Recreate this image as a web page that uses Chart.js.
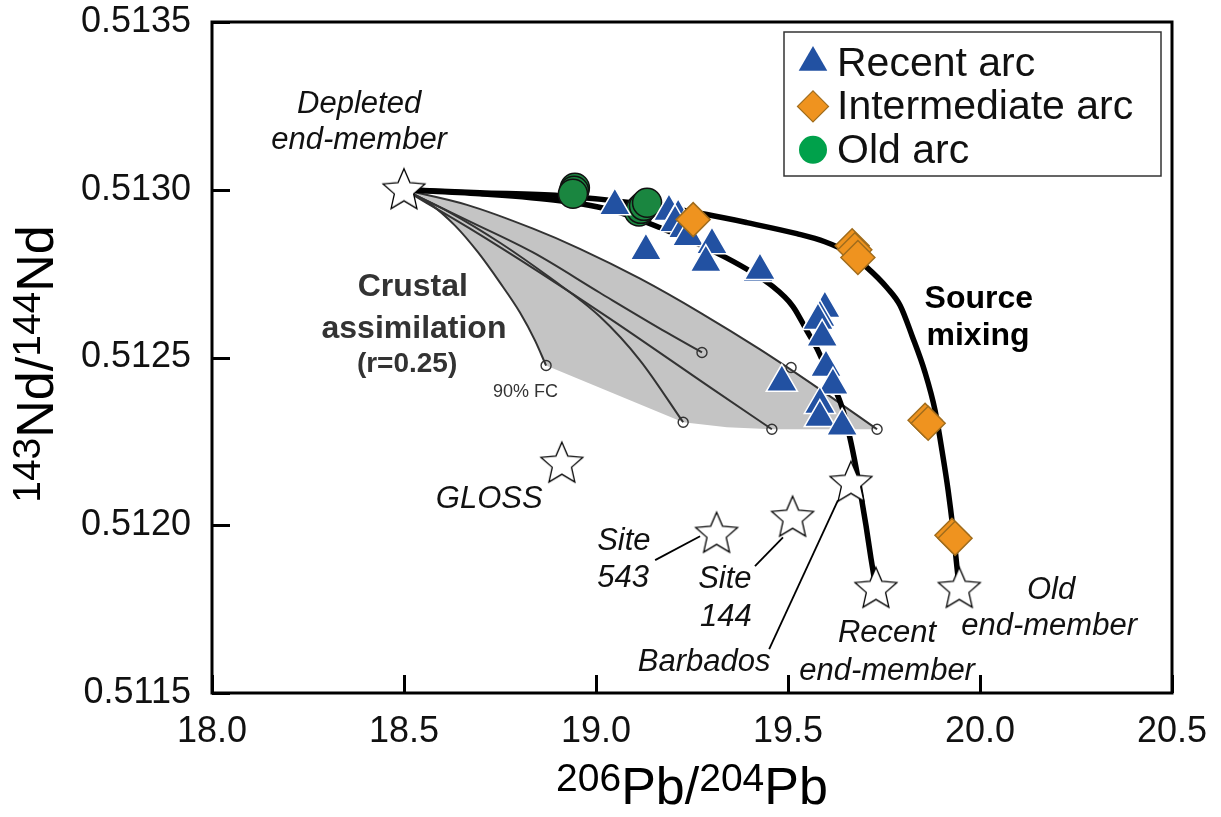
<!DOCTYPE html>
<html>
<head>
<meta charset="utf-8">
<title>Nd-Pb isotope mixing</title>
<script src="https://cdn.jsdelivr.net/npm/chart.js@4.4.1/dist/chart.umd.min.js"></script>
<style>
  html, body { margin: 0; padding: 0; background: #ffffff; }
  #wrap { position: relative; width: 1221px; height: 817px; }
</style>
</head>
<body>
<div id="wrap"><canvas id="chart" width="1221" height="817"></canvas></div>
<script>
// ---- Axis ticks ----
const xTickValues = [18.0, 18.5, 19.0, 19.5, 20.0, 20.5];
const xTickLabels = ['18.0', '18.5', '19.0', '19.5', '20.0', '20.5'];
const yTickValues = [0.5115, 0.5120, 0.5125, 0.5130, 0.5135];
const yTickLabels = ['0.5115', '0.5120', '0.5125', '0.5130', '0.5135'];

// ---- Samples: [206Pb/204Pb, 143Nd/144Nd] ----
const recentArc = [
  [19.049, 0.512952], [19.190, 0.512935], [19.214, 0.512920], [19.206, 0.512902],
  [19.229, 0.512884], [19.240, 0.512860], [19.130, 0.512818], [19.302, 0.512836],
  [19.286, 0.512783], [19.422, 0.512753], [19.427, 0.512759], [19.596, 0.512646],
  [19.583, 0.512619], [19.578, 0.512610], [19.589, 0.512560], [19.599, 0.512470],
  [19.617, 0.512417], [19.583, 0.512360], [19.583, 0.512321], [19.641, 0.512295],
  [19.484, 0.512426]
];
const intermediateArc = [
  [19.253, 0.512911], [19.667, 0.512833], [19.674, 0.512821], [19.682, 0.512798],
  [19.857, 0.512313], [19.865, 0.512304], [19.927, 0.511970], [19.935, 0.511961]
];
const oldArc = [
  [18.945, 0.513006], [18.943, 0.512997], [18.940, 0.512988],
  [19.112, 0.512935], [19.117, 0.512943], [19.125, 0.512952], [19.133, 0.512961]
];

// ---- End-members and sediment compositions ----
const endMembers = [
  [18.500, 0.513000],  // depleted
  [18.911, 0.512185],  // GLOSS
  [19.314, 0.511976],  // Site 543
  [19.512, 0.512024],  // Site 144
  [19.664, 0.512128],  // Barbados
  [19.729, 0.511812],  // recent
  [19.946, 0.511812]   // old
];

// ---- Source mixing curves ----
const recentMixing = [
  [18.500, 0.513000], [18.698, 0.512988], [18.906, 0.512967], [19.044, 0.512938],
  [19.167, 0.512887], [19.323, 0.512807], [19.461, 0.512711], [19.513, 0.512652],
  [19.549, 0.512580], [19.578, 0.512521], [19.609, 0.512440], [19.641, 0.512351],
  [19.661, 0.512262], [19.677, 0.512173], [19.690, 0.512089], [19.703, 0.512000],
  [19.716, 0.511902], [19.729, 0.511812]
];
const oldMixing = [
  [18.500, 0.513000], [18.698, 0.512991], [18.906, 0.512982], [19.115, 0.512958],
  [19.289, 0.512926], [19.393, 0.512902], [19.523, 0.512869], [19.596, 0.512845],
  [19.656, 0.512813], [19.706, 0.512768], [19.758, 0.512708], [19.792, 0.512655],
  [19.823, 0.512565], [19.857, 0.512455], [19.883, 0.512342], [19.901, 0.512223],
  [19.917, 0.512104], [19.930, 0.511985], [19.940, 0.511875], [19.946, 0.511812]
];

// ---- Crustal assimilation (AFC) paths, r = 0.25 ----
const afcPathA = [
  [18.500, 0.513000], [18.568, 0.512958], [18.633, 0.512893], [18.693, 0.512813],
  [18.750, 0.512723], [18.802, 0.512634], [18.841, 0.512551], [18.870, 0.512476]
];
const afcPathB = [
  [18.500, 0.513000], [18.672, 0.512905], [18.836, 0.512813], [19.010, 0.512693],
  [19.185, 0.512574], [19.276, 0.512515]
];
const afcPathC = [
  [18.500, 0.513000], [18.620, 0.512932], [18.750, 0.512842], [18.880, 0.512738],
  [19.010, 0.512622], [19.115, 0.512491], [19.227, 0.512307]
];
const afcPathD = [
  [18.500, 0.513000], [18.672, 0.512884], [18.854, 0.512753], [19.036, 0.512616],
  [19.305, 0.512405], [19.458, 0.512286]
];
const afcPathE = [
  [18.500, 0.513000], [18.664, 0.512955], [18.836, 0.512884], [18.958, 0.512824],
  [19.115, 0.512735], [19.271, 0.512634], [19.427, 0.512524], [19.583, 0.512405],
  [19.732, 0.512286]
];
// 90% fractional crystallisation ends of each path
const afcEnds = [
  [18.870, 0.512476], [19.276, 0.512515], [19.227, 0.512307],
  [19.458, 0.512286], [19.508, 0.512470], [19.732, 0.512286]
];
// Envelope of the AFC paths
const afcField = [
  [18.500, 0.513000], [18.568, 0.512958], [18.633, 0.512893], [18.693, 0.512813],
  [18.750, 0.512723], [18.802, 0.512634], [18.841, 0.512551], [18.870, 0.512476],
  [19.227, 0.512307], [19.341, 0.512292], [19.458, 0.512286], [19.732, 0.512286],
  [19.583, 0.512405], [19.427, 0.512524], [19.271, 0.512634], [19.115, 0.512735],
  [18.958, 0.512824], [18.836, 0.512884], [18.664, 0.512955], [18.500, 0.513000]
];

// ---- Leader lines from sediment labels ----
const leaderSite543 = [[19.154, 0.511896], [19.271, 0.511967]];
const leaderSite144 = [[19.414, 0.511878], [19.487, 0.511964]];
const leaderBarbados = [[19.451, 0.511631], [19.630, 0.512074]];

// ---- Text annotations, anchored in data units ----
const notes = [
  { text: 'Depleted',     at: [18.383, 0.513229], kind: 'name',  align: 'center' },
  { text: 'end-member',   at: [18.383, 0.513122], kind: 'name',  align: 'center' },
  { text: 'Crustal',      at: [18.523, 0.512682], kind: 'afc',   align: 'center' },
  { text: 'assimilation', at: [18.526, 0.512557], kind: 'afc',   align: 'center' },
  { text: '(r=0.25)',     at: [18.508, 0.512458], kind: 'afcR',  align: 'center' },
  { text: '90% FC',       at: [18.732, 0.512381], kind: 'fc',    align: 'left' },
  { text: 'GLOSS',        at: [18.583, 0.512051], kind: 'name',  align: 'left' },
  { text: 'Site',         at: [19.003, 0.511926], kind: 'name',  align: 'left' },
  { text: '543',          at: [19.003, 0.511815], kind: 'name',  align: 'left' },
  { text: 'Site',         at: [19.266, 0.511813], kind: 'name',  align: 'left' },
  { text: '144',          at: [19.271, 0.511699], kind: 'name',  align: 'left' },
  { text: 'Barbados',     at: [19.109, 0.511565], kind: 'name',  align: 'left' },
  { text: 'Recent',       at: [19.758, 0.511652], kind: 'name',  align: 'center' },
  { text: 'end-member',   at: [19.758, 0.511539], kind: 'name',  align: 'center' },
  { text: 'Old',          at: [20.185, 0.511780], kind: 'name',  align: 'center' },
  { text: 'end-member',   at: [20.180, 0.511673], kind: 'name',  align: 'center' },
  { text: 'Source',       at: [19.997, 0.512649], kind: 'mix',   align: 'center' },
  { text: 'mixing',       at: [19.995, 0.512536], kind: 'mix',   align: 'center' }
];

const FAMILY = "'Liberation Sans', Arial, Helvetica, sans-serif";
const noteStyles = {
  name: { font: `italic 400 31px ${FAMILY}`, color: '#111111' },
  afc:  { font: `normal 700 32px ${FAMILY}`, color: '#333333' },
  afcR: { font: `normal 700 28px ${FAMILY}`, color: '#333333' },
  fc:   { font: `normal 400 18px ${FAMILY}`, color: '#333333' },
  mix:  { font: `normal 700 32px ${FAMILY}`, color: '#000000' }
};

const toPts = arr => arr.map(([x, y]) => ({ x, y }));

// Open star marker used for end-members
function makeStar(R) {
  const size = Math.ceil(R * 2 + 6);
  const c = document.createElement('canvas');
  c.width = size; c.height = size;
  const g = c.getContext('2d');
  g.translate(size / 2, size / 2 + 1);
  g.beginPath();
  for (let i = 0; i < 10; i++) {
    const r = i % 2 ? R * 0.46 : R;
    const a = -Math.PI / 2 + i * Math.PI / 5;
    const px = Math.cos(a) * r, py = Math.sin(a) * r;
    if (i === 0) g.moveTo(px, py); else g.lineTo(px, py);
  }
  g.closePath();
  g.fillStyle = '#ffffff';
  g.fill();
  g.lineWidth = 1.3;
  g.strokeStyle = '#000000';
  g.lineJoin = 'miter';
  g.stroke();
  return c;
}
const starMarker = makeStar(22);

const pathStyle = { showLine: true, pointRadius: 0, borderColor: '#333333', borderWidth: 2, cubicInterpolationMode: 'monotone', fill: false, order: 7 };
const leaderStyle = { showLine: true, pointRadius: 0, borderColor: '#000000', borderWidth: 1.8, tension: 0, fill: false, order: 5 };
const mixStyle = { showLine: true, pointRadius: 0, borderColor: '#000000', borderWidth: 5.5, cubicInterpolationMode: 'monotone', fill: false, order: 5, borderCapStyle: 'round' };

const datasets = [
  { label: 'Intermediate arc', data: toPts(intermediateArc), pointStyle: 'rectRot', pointRadius: 17,
    backgroundColor: '#EF931F', borderColor: '#A06C1C', borderWidth: 1.5, order: 1,
    legend: { fill: '#EF931F', stroke: '#A06C1C', radius: 15.5, borderWidth: 1.2 } },
  { label: 'Recent arc', data: toPts(recentArc), pointStyle: 'triangle', pointRadius: 18,
    backgroundColor: '#2251A2', borderColor: '#ffffff', borderWidth: 1.5, order: 2,
    legend: { fill: '#2251A2', stroke: '#2251A2', radius: 16.5, borderWidth: 0 } },
  { label: 'Old arc', data: toPts(oldArc), pointStyle: 'circle', pointRadius: 14.5,
    backgroundColor: '#1A8640', borderColor: '#111111', borderWidth: 1.5, order: 3,
    legend: { fill: '#00A14B', stroke: '#00A14B', radius: 14, borderWidth: 0 } },
  { label: 'End-members', data: toPts(endMembers), pointStyle: starMarker, pointRadius: 21, order: 4 },
  { label: 'Recent mixing', data: toPts(recentMixing), ...mixStyle },
  { label: 'Old mixing', data: toPts(oldMixing), ...mixStyle },
  { label: 'Site 543', data: toPts(leaderSite543), ...leaderStyle },
  { label: 'Site 144', data: toPts(leaderSite144), ...leaderStyle },
  { label: 'Barbados', data: toPts(leaderBarbados), ...leaderStyle },
  { label: '90% FC', data: toPts(afcEnds), pointStyle: 'circle', pointRadius: 5,
    backgroundColor: 'rgba(0,0,0,0)', borderColor: '#333333', borderWidth: 1.4, order: 6 },
  { label: 'AFC A', data: toPts(afcPathA), ...pathStyle },
  { label: 'AFC B', data: toPts(afcPathB), ...pathStyle },
  { label: 'AFC C', data: toPts(afcPathC), ...pathStyle },
  { label: 'AFC D', data: toPts(afcPathD), ...pathStyle },
  { label: 'AFC E', data: toPts(afcPathE), ...pathStyle },
  { label: 'AFC field', data: toPts(afcField), showLine: true, pointRadius: 0, borderWidth: 0,
    borderColor: 'rgba(0,0,0,0)', backgroundColor: '#C4C4C4', tension: 0, fill: 'shape', order: 8 }
];

// Plot frame with inward tick marks
const framePlugin = {
  id: 'frame',
  afterDatasetsDraw(chart) {
    const { ctx, chartArea: a, scales: { x, y } } = chart;
    ctx.save();
    ctx.strokeStyle = '#000000';
    ctx.lineWidth = 3;
    ctx.lineCap = 'butt';
    ctx.beginPath();
    xTickValues.forEach(v => {
      const px = Math.round(x.getPixelForValue(v)) + 0.5;
      ctx.moveTo(px, a.bottom); ctx.lineTo(px, a.bottom - 18);
    });
    yTickValues.forEach(v => {
      const py = Math.round(y.getPixelForValue(v)) + 0.5;
      ctx.moveTo(a.left, py); ctx.lineTo(a.left + 18, py);
    });
    ctx.stroke();
    ctx.strokeRect(a.left, a.top, a.right - a.left, a.bottom - a.top);
    ctx.restore();
  }
};

// Text annotations
const notesPlugin = {
  id: 'notes',
  afterDatasetsDraw(chart) {
    const { ctx, scales: { x, y } } = chart;
    ctx.save();
    ctx.textBaseline = 'alphabetic';
    notes.forEach(n => {
      const st = noteStyles[n.kind];
      ctx.font = st.font;
      ctx.fillStyle = st.color;
      ctx.textAlign = n.align;
      ctx.fillText(n.text, x.getPixelForValue(n.at[0]), y.getPixelForValue(n.at[1]));
    });
    ctx.restore();
  }
};

// Axis titles with superscript mass numbers
const xTitle = [['206', true], ['Pb', false], ['/', false], ['204', true], ['Pb', false]];
const yTitle = [['143', true], ['Nd', false], ['/', false], ['144', true], ['Nd', false]];
function drawRichTitle(ctx, parts, cx, baseline) {
  const main = `52px ${FAMILY}`, sup = `39px ${FAMILY}`;
  let total = 0;
  parts.forEach(([t, s]) => { ctx.font = s ? sup : main; total += ctx.measureText(t).width; });
  let xpos = cx - total / 2;
  parts.forEach(([t, s]) => {
    ctx.font = s ? sup : main;
    ctx.fillText(t, xpos, s ? baseline - 13 : baseline);
    xpos += ctx.measureText(t).width;
  });
}
const titlesPlugin = {
  id: 'titles',
  afterDraw(chart) {
    const { ctx, chartArea: a } = chart;
    ctx.save();
    ctx.fillStyle = '#000000';
    ctx.textAlign = 'left';
    ctx.textBaseline = 'alphabetic';
    drawRichTitle(ctx, xTitle, (a.left + a.right) / 2, 804);
    ctx.translate(53, 364);
    ctx.rotate(-Math.PI / 2);
    drawRichTitle(ctx, yTitle, 0, 0);
    ctx.restore();
  }
};

// Boxed legend inside the plot area
const legendRows = ['Recent arc', 'Intermediate arc', 'Old arc'];
const legendPlugin = {
  id: 'boxLegend',
  afterDraw(chart) {
    const { ctx, chartArea: a } = chart;
    const right = a.right - 11, top = a.top + 10;
    const w = 377, h = 144, left = right - w;
    ctx.save();
    ctx.fillStyle = '#ffffff';
    ctx.fillRect(left, top, w, h);
    ctx.strokeStyle = '#333333';
    ctx.lineWidth = 1.5;
    ctx.strokeRect(left, top, w, h);
    const rowGap = 43.4;
    legendRows.forEach((name, i) => {
      const ds = chart.data.datasets.find(d => d.label === name);
      const lg = ds.legend;
      const baseline = top + 44 + i * rowGap;
      let cy = baseline - 13;
      if (ds.pointStyle === 'triangle') cy = baseline - 13.5;
      ctx.fillStyle = lg.fill;
      ctx.strokeStyle = lg.stroke;
      ctx.lineWidth = lg.borderWidth;
      Chart.helpers.drawPoint(ctx, { pointStyle: ds.pointStyle, radius: lg.radius, rotation: 0, borderWidth: lg.borderWidth }, left + 29, cy);
      ctx.fillStyle = '#111111';
      ctx.font = `41px ${FAMILY}`;
      ctx.textAlign = 'left';
      ctx.textBaseline = 'alphabetic';
      ctx.fillText(name, left + 53, baseline);
    });
    ctx.restore();
  }
};

new Chart(document.getElementById('chart'), {
  type: 'scatter',
  data: { datasets },
  options: {
    responsive: false,
    animation: false,
    devicePixelRatio: 1,
    events: [],
    layout: { padding: { left: 0, right: 49, top: 21, bottom: 0 } },
    plugins: { legend: { display: false }, tooltip: { enabled: false }, title: { display: false } },
    scales: {
      x: {
        type: 'linear', min: 18.0, max: 20.5,
        afterBuildTicks: s => { s.ticks = xTickValues.map(v => ({ value: v })); },
        afterFit: s => { s.height = 124; s.paddingLeft = 0; s.paddingRight = 0; },
        ticks: {
          callback: v => xTickLabels[xTickValues.indexOf(v)],
          font: { family: FAMILY, size: 36 }, color: '#111111',
          padding: 17, maxRotation: 0, autoSkip: false
        },
        grid: { display: false, drawTicks: false },
        border: { display: false }
      },
      y: {
        type: 'linear', min: 0.5115, max: 0.5135,
        afterBuildTicks: s => { s.ticks = yTickValues.map(v => ({ value: v })); },
        afterFit: s => { s.width = 212; s.paddingTop = 0; s.paddingBottom = 0; },
        ticks: {
          callback: v => yTickLabels[yTickValues.indexOf(v)],
          font: { family: FAMILY, size: 36 }, color: '#111111',
          padding: 21, autoSkip: false
        },
        grid: { display: false, drawTicks: false },
        border: { display: false }
      }
    }
  },
  plugins: [framePlugin, notesPlugin, titlesPlugin, legendPlugin]
});
</script>
</body>
</html>
